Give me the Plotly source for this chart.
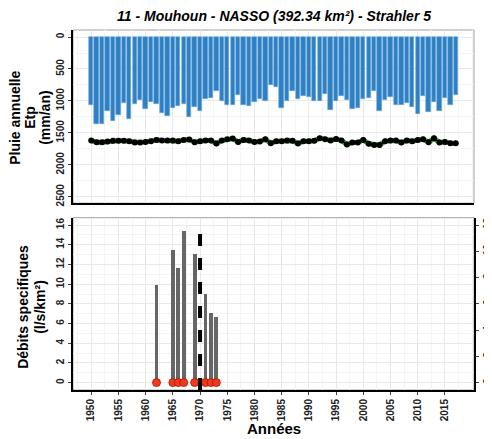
import plotly.graph_objects as go

# --- data ---
years = list(range(1950, 2018))

pluie = [1062, 1365, 1365, 1151, 1312, 1219, 1026, 1281, 1042, 979,
         1130, 1021, 1052, 1193, 1234, 1104, 1083, 1052, 1250, 1089,
         1156, 969, 958, 839, 1000, 1062, 1062, 906, 1068, 1083,
         1016, 965, 1000, 750, 781, 1104, 1000, 844, 969, 917,
         932, 1000, 1000, 885, 1141, 1000, 917, 984, 1130, 1115,
         969, 958, 844, 1156, 984, 932, 1062, 1062, 1036, 1089,
         1208, 917, 1167, 1021, 1156, 958, 1062, 906]

etp = [1620, 1646, 1646, 1636, 1625, 1625, 1625, 1630, 1651, 1651,
       1641, 1630, 1610, 1620, 1620, 1620, 1630, 1610, 1604, 1646,
       1630, 1620, 1620, 1667, 1620, 1599, 1589, 1641, 1610, 1620,
       1641, 1635, 1599, 1661, 1630, 1630, 1620, 1625, 1667, 1630,
       1630, 1625, 1583, 1599, 1620, 1594, 1620, 1682, 1651, 1651,
       1610, 1672, 1688, 1688, 1630, 1620, 1620, 1651, 1620, 1630,
       1610, 1599, 1646, 1583, 1651, 1641, 1661, 1661]

q_years = [1962, 1965, 1966, 1967, 1969, 1971, 1972, 1973]
q_vals = [9.9, 13.5, 11.7, 15.45, 13.1, 9.07, 7.14, 6.73]

rupture_year = 1970

x_ticks = list(range(1950, 2016, 5))
title = "11 - Mouhoun - NASSO (392.34 km²) - Strahler 5"

FONT = "Liberation Sans"
xr = [1946.65, 2020.35]

fig = go.Figure()

# top panel: rainfall bars + ETP line
fig.add_trace(go.Bar(x=years, y=pluie, width=0.8, xaxis="x", yaxis="y",
                     marker=dict(color="#2f80c2", line=dict(color="#6aa9dc", width=0.6))))
fig.add_trace(go.Scatter(x=years, y=etp, mode="lines", xaxis="x", yaxis="y",
                         line=dict(color="#2ca02c", width=5)))
fig.add_trace(go.Scatter(x=years, y=etp, mode="lines+markers", xaxis="x", yaxis="y",
                         line=dict(color="black", width=1.5),
                         marker=dict(color="black", size=6)))

# bottom panel: specific discharge
fig.add_trace(go.Bar(x=q_years, y=q_vals, width=0.7, xaxis="x2", yaxis="y2",
                     marker=dict(color="#666666", line=dict(width=0))))
fig.add_trace(go.Scatter(x=q_years, y=[0] * len(q_years), mode="markers", xaxis="x2", yaxis="y2",
                         marker=dict(color="#ee3a1f", size=8, line=dict(color="#a01808", width=0.8))))
# invisible trace to activate the right axis
fig.add_trace(go.Scatter(x=[xr[0]], y=[0], mode="markers", xaxis="x2", yaxis="y3",
                         marker=dict(opacity=0), hoverinfo="skip"))

grid = dict(showgrid=True, gridcolor="#e8e8e8", gridwidth=1, automargin=False)
minor = dict(showgrid=True, gridcolor="#f4f4f4", gridwidth=1)
tfont = dict(family=FONT, size=10, color="#222", weight="bold")

# page body has an 8px margin, so the figure is 8px smaller than the window
fig.update_layout(
    template="none",
    width=484, height=431,
    margin=dict(l=65, r=18, t=22, b=49),
    paper_bgcolor="white", plot_bgcolor="white",
    showlegend=False, bargap=0,
    font=dict(family=FONT),
    xaxis=dict(domain=[0, 1], range=xr, anchor="y", tickvals=x_ticks, showticklabels=False,
               ticks="", minor=dict(dtick=2.5, tick0=1950, **minor), zeroline=False,
               showline=True, linecolor="black", linewidth=2, **grid),
    yaxis=dict(domain=[0.519, 1], range=[2600, -110], anchor="x", tickvals=[0, 500, 1000, 1500, 2000, 2500],
               tickangle=-90, tickfont=tfont, ticks="outside", ticklen=3, zeroline=False,
               minor=dict(dtick=250, tick0=0, **minor),
               showline=True, linecolor="black", linewidth=2, **grid),
    xaxis2=dict(domain=[0, 1], range=xr, anchor="y2", tickvals=x_ticks, tickangle=-90,
                tickfont=tfont, ticks="outside", ticklen=3, zeroline=False,
                minor=dict(dtick=2.5, tick0=1950, **minor),
                showline=True, linecolor="black", linewidth=2, **grid),
    yaxis2=dict(domain=[0, 0.4786], range=[-0.75, 16.75], anchor="x2", tickvals=list(range(0, 17, 2)),
                tickangle=-90, tickfont=tfont, ticks="outside", ticklen=3, zeroline=False,
                minor=dict(dtick=1, tick0=0, **minor),
                showline=True, linecolor="black", linewidth=2, **grid),
    yaxis3=dict(overlaying="y2", side="right", anchor="x2", range=[-0.5625, 12.5625],
                tickvals=list(range(0, 13, 2)), tickangle=-90, tickfont=tfont, ticks="outside",
                ticklen=3, showgrid=False, zeroline=False, automargin=False,
                showline=True, linecolor="black", linewidth=2),
)

# panel borders (top/right) in light grey
fig.add_shape(type="rect", xref="x domain", yref="y domain", x0=0, x1=1, y0=0, y1=1,
              line=dict(color="#a0a0a0", width=1), layer="below")
fig.add_shape(type="rect", xref="x2 domain", yref="y2 domain", x0=0, x1=1, y0=0, y1=1,
              line=dict(color="#a0a0a0", width=1), layer="below")

# rupture year
fig.add_shape(type="line", xref="x2", yref="y2", x0=rupture_year, x1=rupture_year, y0=-0.75, y1=16,
              line=dict(color="black", width=4, dash="dash"))

afont = dict(family=FONT, size=14, color="black", weight="bold")
fig.add_annotation(text=f"<i>{title}</i>", xref="paper", yref="paper", x=0.5, y=1.0,
                   yshift=14, xanchor="center", yanchor="middle", showarrow=False, font=afont)
for txt, dx, yy in [("Pluie annuelle", -58, 0.756), ("Etp", -43, 0.756), ("(mm/an)", -28, 0.756),
                    ("Débits specifiques", -50, 0.231), ("(l/s/km²)", -33, 0.231)]:
    fig.add_annotation(text=txt, xref="paper", yref="paper", x=0, xshift=dx, y=yy,
                       xanchor="center", yanchor="middle",
                       textangle=-90, showarrow=False, font=afont)
fig.add_annotation(text="Années", xref="paper", yref="paper", x=0.5, y=0, yshift=-28,
                   xanchor="center", yanchor="top", showarrow=False,
                   font=dict(family=FONT, size=15, color="black", weight="bold"))

fig.write_html("out.html")
